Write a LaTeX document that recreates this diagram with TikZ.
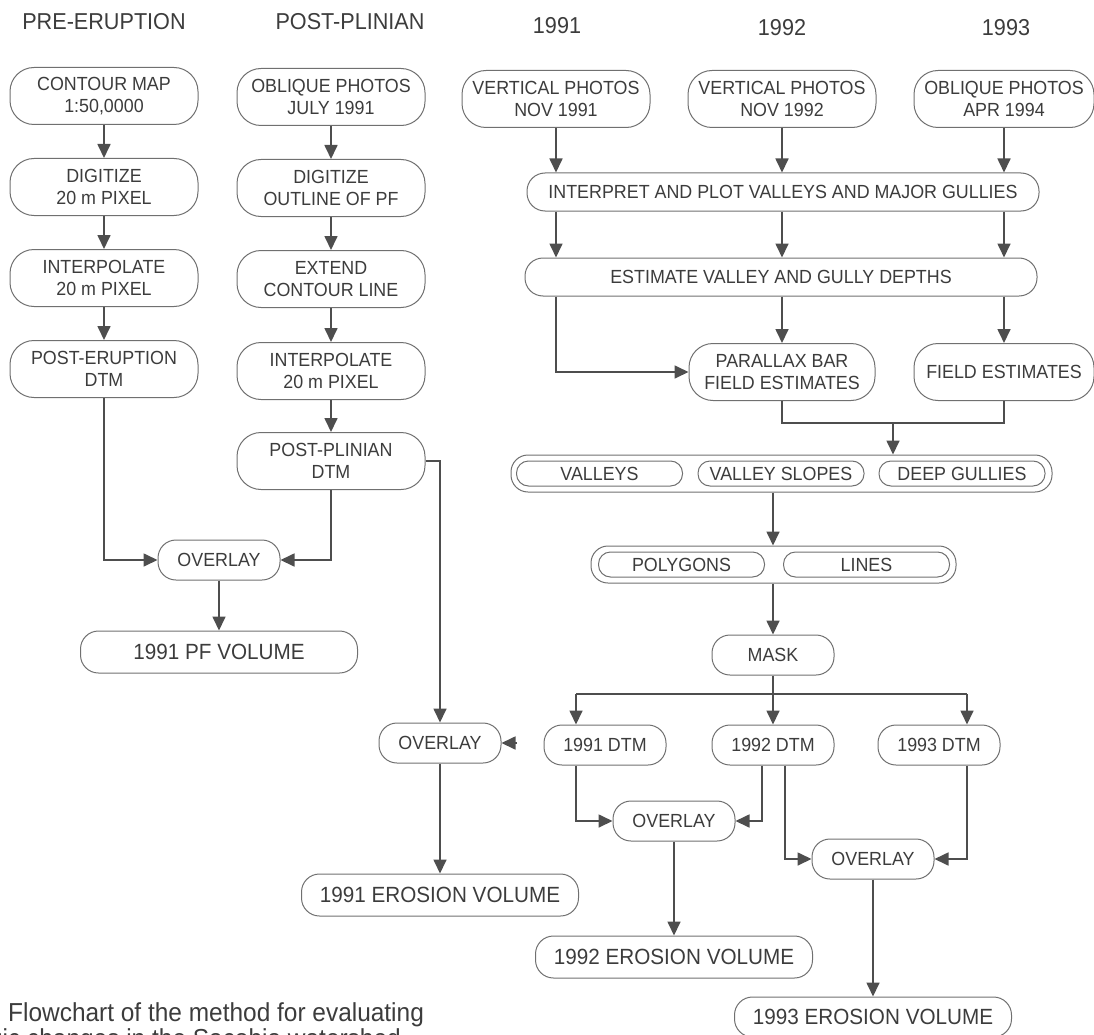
\documentclass[tikz,border=0pt]{standalone}
\usepackage{fontspec}
\setmainfont{Liberation Sans}[FakeStretch=0.94]
\usetikzlibrary{arrows.meta,
	positioning,
	calc}
\definecolor{inkgray}{HTML}{3C3C3C}
\definecolor{linegray}{HTML}{4E4E4E}
\definecolor{boxgray}{HTML}{707070}
\newcommand{\boxfont}{\fontsize{19}{21.5}\selectfont}
\newcommand{\headfont}{\fontsize{23}{26}\selectfont}
\newcommand{\volfont}{\fontsize{22}{25}\selectfont}
\newcommand{\capfont}{\fontsize{26}{23}\selectfont}
\tikzset{
	box/.style={draw=boxgray, line width=1pt, rounded corners=24pt, minimum width=188pt, minimum height=57pt, inner sep=0pt, align=center, text=inkgray, font=\boxfont},
	pill/.style={box, rounded corners=18pt, minimum width=122pt, minimum height=40pt},
	wide/.style={box, rounded corners=18pt, minimum width=512pt, minimum height=38pt},
	vol/.style={pill, minimum width=277pt, minimum height=42pt, font=\volfont},
	group/.style={box, rounded corners=17pt, minimum height=37pt},
	inner/.style={box, rounded corners=12pt, minimum width=166pt, minimum height=25pt},
	head/.style={text=inkgray, font=\headfont},
	conn/.style={draw=linegray, line width=1.7pt},
	arrow/.style={conn, -{Triangle[length=14pt,width=13pt]}},
}
\begin{document}
\begin{tikzpicture}[x=1pt,y=-1pt]
	\useasboundingbox (0,0) rectangle (1094,1035);
	\node[head] (hpre) at (104,22) {PRE-ERUPTION};
	\node[head] (hpost) at (350,22) {POST-PLINIAN};
	\node[head] (h91) at (557,26) {1991};
	\node[head] (h92) at (782,28) {1992};
	\node[head] (h93) at (1006,28) {1993};
	\node[box] (contour) at (104,96) {CONTOUR MAP\\1:50,0000};
	\node[box] (digitA) at (104,187) {DIGITIZE\\20 m PIXEL};
	\node[box] (interpA) at (104,278) {INTERPOLATE\\20 m PIXEL};
	\node[box] (posterupt) at (104,369) {POST-ERUPTION\\DTM};
	\node[box] (obliqueA) at (331,97) {OBLIQUE PHOTOS\\JULY 1991};
	\node[box] (digitB) at (331,188) {DIGITIZE\\OUTLINE OF PF};
	\node[box] (extend) at (331,279) {EXTEND\\CONTOUR LINE};
	\node[box] (interpB) at (331,371) {INTERPOLATE\\20 m PIXEL};
	\node[box] (postplin) at (331,461) {POST-PLINIAN\\DTM};
	\foreach \a/\b in {contour/digitA, digitA/interpA, interpA/posterupt, obliqueA/digitB, digitB/extend, extend/interpB, interpB/postplin}
		\draw[arrow] (\a) -- (\b);
	\node[pill] (overA) at (219,560) {OVERLAY};
	\node[vol] (pfvol) at (219,652) {1991 PF VOLUME};
	\draw[arrow] (posterupt) |- (overA);
	\draw[arrow] (postplin) |- (overA);
	\draw[arrow] (overA) -- (pfvol);
	\node[pill] (overB) at (440,743) {OVERLAY};
	\node[vol] (eroA) at (440,895) {1991 EROSION VOLUME};
	\coordinate (stub) at (517,743);
	\draw[arrow] (postplin.east) -| (overB);
	\draw[arrow] (stub) -- (overB);
	\draw[arrow] (overB) -- (eroA);
	\node[box] (vert91) at (556,99) {VERTICAL PHOTOS\\NOV 1991};
	\node[box] (vert92) at (782,99) {VERTICAL PHOTOS\\NOV 1992};
	\node[box, minimum width=180pt] (oblique94) at (1004,99) {OBLIQUE PHOTOS\\APR 1994};
	\node[wide] (interpret) at (783,192) {INTERPRET AND PLOT VALLEYS AND MAJOR GULLIES};
	\node[wide] (estimate) at (781,277) {ESTIMATE VALLEY AND GULLY DEPTHS};
	\node[box, minimum width=186pt] (parallax) at (782,372) {PARALLAX BAR\\FIELD ESTIMATES};
	\node[box, minimum width=180pt] (fieldest) at (1004,372) {FIELD ESTIMATES};
	\foreach \src in {vert91, vert92, oblique94} {
		\draw[arrow] (\src) -- (\src |- interpret.north);
		\draw[arrow] (\src |- interpret.south) -- (\src |- estimate.north);
	}
	\draw[arrow] (vert91 |- estimate.south) |- (parallax);
	\draw[arrow] (parallax |- estimate.south) -- (parallax);
	\draw[arrow] (fieldest |- estimate.south) -- (fieldest);
	\node[group, minimum width=541pt] (grpA) at (781.5,473.5) {};
	\node[inner] (valleys) at (599.5,473.5) {VALLEYS};
	\node[inner] (vslopes) at (781,473.5) {VALLEY SLOPES};
	\node[inner] (gullies) at (962,473.5) {DEEP GULLIES};
	\coordinate (join) at (893,423);
	\draw[conn] (parallax) |- (join) -| (fieldest);
	\draw[arrow] (join) -- (join |- grpA.north);
	\node[group, minimum width=365pt] (grpB) at (773.5,564.5) {};
	\node[inner] (polygons) at (681.5,564.5) {POLYGONS};
	\node[inner] (lines) at (866.5,564.5) {LINES};
	\node[pill] (mask) at (773,655) {MASK};
	\draw[arrow] (grpA.south -| mask) -- (grpB.north -| mask);
	\draw[arrow] (grpB.south -| mask) -- (mask);
	\node[pill] (dtm91) at (605,745) {1991 DTM};
	\node[pill] (dtm92) at (773,745) {1992 DTM};
	\node[pill] (dtm93) at (939,745) {1993 DTM};
	\coordinate (split) at (773,694);
	\coordinate (br91) at (576,694);
	\coordinate (br93) at (967,694);
	\draw[conn] (mask) -- (split);
	\draw[conn] (br91) -- (br93);
	\draw[arrow] (br91) -- (br91 |- dtm91.north);
	\draw[arrow] (split) -- (dtm92);
	\draw[arrow] (br93) -- (br93 |- dtm93.north);
	\node[pill] (overC) at (674,821) {OVERLAY};
	\node[pill] (overD) at (873,859) {OVERLAY};
	\node[vol] (eroB) at (674,957) {1992 EROSION VOLUME};
	\node[vol, minimum height=40pt] (eroC) at (873,1017) {1993 EROSION VOLUME};
	\draw[arrow] (br91 |- dtm91.south) |- (overC);
	\draw[arrow] ([xshift=-11pt]dtm92.south) |- (overC);
	\draw[arrow] ([xshift=12pt]dtm92.south) |- (overD);
	\draw[arrow] (br93 |- dtm93.south) |- (overD);
	\draw[arrow] (overC) -- (eroB);
	\draw[arrow] (overD) -- (eroC);
	\node[anchor=base west, inner sep=0pt, text=inkgray, font=\capfont] (caption) at (8,1021) {Flowchart of the method for evaluating};
	\node[anchor=base east, inner sep=0pt, text=inkgray, font=\capfont] (captionB) at (401,1047) {gic changes in the Sacobia watershed};
\end{tikzpicture}
\end{document}
